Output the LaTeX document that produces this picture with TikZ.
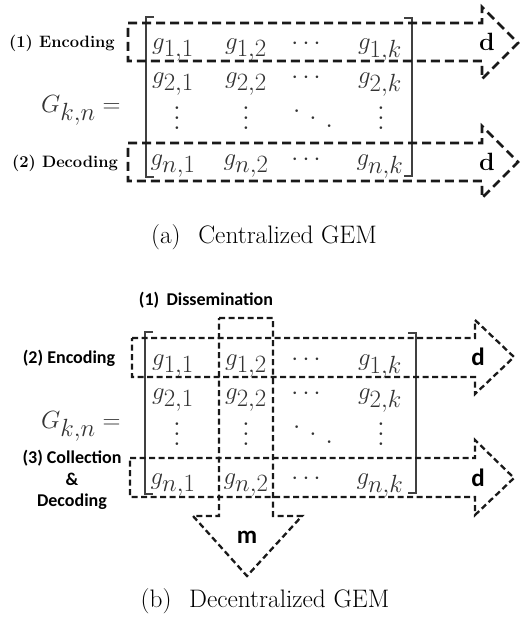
\documentclass[tikz,border=0pt]{standalone}
\usepackage{fontspec}
\newfontfamily\CalibriLike{Carlito}
\newcommand\myvdots{\vbox{\baselineskip=10pt\lineskiplimit=0pt\hbox{.}\hbox{.}\hbox{.}}}
\newcommand\myddots{\mbox{\raisebox{15pt}{.}\hspace{8pt}\raisebox{7.5pt}{.}\hspace{8pt}\raisebox{0pt}{.}}}
\begin{document}
\begin{tikzpicture}[x=1pt,y=-1pt,
  arrA/.style={draw=black!90, line width=2.6pt, dash pattern=on 9pt off 5pt, line join=miter},
  arrB/.style={draw=black!90, line width=2.3pt, dash pattern=on 6pt off 3.5pt, line join=miter},
  brk/.style={draw=black!75, line width=1.5pt},
  ent/.style={font=\fontsize{33}{38}\selectfont, text=black!80, inner sep=0pt, anchor=base},
  lblA/.style={font=\rmfamily\bfseries\fontsize{16.5}{20}\selectfont, inner sep=0pt},
  lblB/.style={font=\CalibriLike\bfseries\fontsize{18}{21.5}\selectfont, inner sep=0pt, align=center},
  dA/.style={font=\rmfamily\bfseries\fontsize{25}{28}\selectfont, inner sep=0pt},
  dB/.style={font=\CalibriLike\bfseries\fontsize{25}{28}\selectfont, inner sep=0pt},
  captxt/.style={font=\fontsize{25.3}{30}\selectfont, inner sep=0pt}]
\useasboundingbox (0,0) rectangle (523,637);

% ---------- (a) ----------
\node[ent, anchor=base west] (Ga) at (41,112) {$G_{k,n} =$};
\draw[brk] (154,17) -- (146,17) -- (146,177) -- (154,177);
\draw[brk] (404,18) -- (412,18) -- (412,176) -- (404,176);
\node[ent] (a11) at (173,49) {$g_{1,1}$};
\node[ent] (a12) at (246,49) {$g_{1,2}$};
\node[ent] (a13) at (306,49) {$\cdots$};
\node[ent] (a14) at (380,49) {$g_{1,k}$};
\node[ent] (a21) at (173,83) {$g_{2,1}$};
\node[ent] (a22) at (246,83) {$g_{2,2}$};
\node[ent] (a23) at (306,83) {$\cdots$};
\node[ent] (a24) at (380,83) {$g_{2,k}$};
\node[ent] (a31) at (177,129) {\smash{\myvdots}};
\node[ent] (a32) at (246,129) {\smash{\myvdots}};
\node[ent] (a33) at (313,127) {\smash{\myddots}};
\node[ent] (a34) at (381,129) {\smash{\myvdots}};
\node[ent] (a41) at (173,165) {$g_{n,1}$};
\node[ent] (a42) at (246,165) {$g_{n,2}$};
\node[ent] (a43) at (306,165) {$\cdots$};
\node[ent] (a44) at (380,165) {$g_{n,k}$};

\draw[arrA] (128,23) -- (482,23) -- (482,7) -- (518,43) -- (482,79) -- (482,61) -- (128,61) -- cycle;
\draw[arrA] (128,143) -- (482,143) -- (482,126) -- (518,162) -- (482,198) -- (482,181) -- (128,181) -- cycle;

\node[lblA] (encA) at (62,43) {(1) Encoding};
\node[lblA] (decA) at (65,163) {(2) Decoding};
\node[dA] (dA1) at (487,42) {d};
\node[dA] (dA2) at (487,162) {d};
\node[captxt] (capA) at (264,237) {(a)\hspace{0.7em}Centralized GEM};

% ---------- (b) ----------
\node[ent, anchor=base west] (Gb) at (41,428) {$G_{k,n} =$};
\draw[brk] (153,332) -- (145,332) -- (145,494) -- (153,494);
\draw[brk] (408,333) -- (416,333) -- (416,493) -- (408,493);
\node[ent] (b11) at (173,365) {$g_{1,1}$};
\node[ent] (b12) at (246,365) {$g_{1,2}$};
\node[ent] (b13) at (306,365) {$\cdots$};
\node[ent] (b14) at (380,365) {$g_{1,k}$};
\node[ent] (b21) at (173,399) {$g_{2,1}$};
\node[ent] (b22) at (246,399) {$g_{2,2}$};
\node[ent] (b23) at (306,399) {$\cdots$};
\node[ent] (b24) at (380,399) {$g_{2,k}$};
\node[ent] (b31) at (177,445) {\smash{\myvdots}};
\node[ent] (b32) at (246,445) {\smash{\myvdots}};
\node[ent] (b33) at (313,443) {\smash{\myddots}};
\node[ent] (b34) at (381,445) {\smash{\myvdots}};
\node[ent] (b41) at (173,484) {$g_{n,1}$};
\node[ent] (b42) at (246,484) {$g_{n,2}$};
\node[ent] (b43) at (306,484) {$\cdots$};
\node[ent] (b44) at (380,484) {$g_{n,k}$};

\draw[arrB] (132,338) -- (475,338) -- (475,320) -- (514,357) -- (475,394) -- (475,377) -- (132,377) -- cycle;
\draw[arrB] (130,458) -- (475,458) -- (475,440) -- (514,478) -- (475,515) -- (475,497) -- (130,497) -- cycle;
\draw[arrB] (219,318) -- (273,318) -- (273,516) -- (302,516) -- (247,576) -- (193,516) -- (219,516) -- cycle;

\node[lblB] (disB) at (206,300) {(1)\hspace{0.4em}Dissemination};
\node[lblB] (encB) at (69,358) {(2) Encoding};
\node[lblB] (colB) at (72,480) {(3) Collection\\\&\\Decoding};
\node[dB] (dB1) at (478,357) {d};
\node[dB] (dB2) at (478,478) {d};
\node[dB] (mB) at (247,537) {m};
\node[captxt] (capB) at (265,601) {(b)\hspace{0.7em}Decentralized GEM};
\end{tikzpicture}
\end{document}
